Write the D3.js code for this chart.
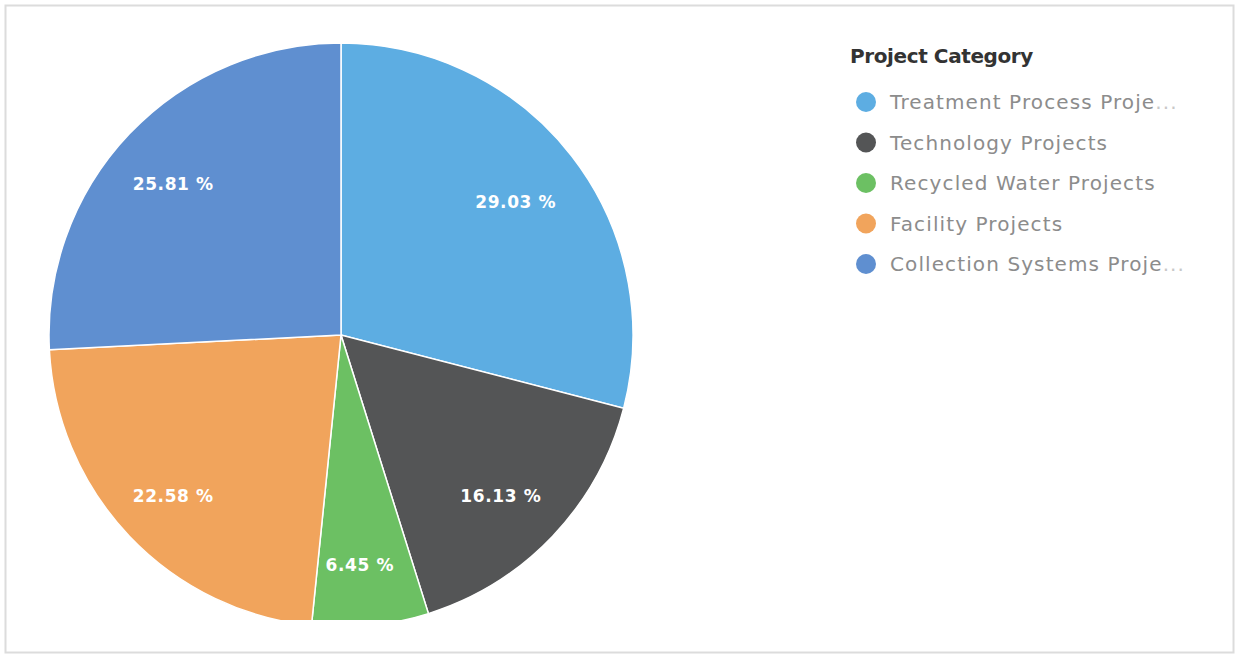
<!DOCTYPE html>
<html>
<head>
<meta charset="utf-8">
<script src="https://cdn.jsdelivr.net/npm/d3@7"></script>
<style>
  html, body { margin: 0; padding: 0; background: #fff; }
  svg { display: block; }
</style>
</head>
<body>
<svg id="chart" width="1240" height="658"></svg>
<script>
const categories = ["Treatment Process Proje", "Technology Projects", "Recycled Water Projects", "Facility Projects", "Collection Systems Proje"];
const truncated = [true, false, false, false, true];
const counts = [9, 5, 2, 7, 8];
const labels = ["29.03 %", "16.13 %", "6.45 %", "22.58 %", "25.81 %"];
const colors = ["#5dade2", "#545556", "#6cc063", "#f1a45c", "#5f8fd0"];
const legendTitle = "Project Category";

const svg = d3.select("#chart");

// outer frame
svg.append("rect").attr("x", 5.5).attr("y", 5.5).attr("width", 1228).attr("height", 647)
  .attr("fill", "#fff").attr("stroke", "#dcdcdc").attr("stroke-width", 2);

const cx = 341, cy = 335, r = 292;

svg.append("defs").append("clipPath").attr("id", "clip")
  .append("rect").attr("x", 0).attr("y", 0).attr("width", 1240).attr("height", 620);

const pie = d3.pie().sort(null).value(d => d)(counts);
const arc = d3.arc().innerRadius(0).outerRadius(r);
const labelArc = d3.arc().innerRadius(226).outerRadius(226);

const root = svg.append("g").attr("clip-path", "url(#clip)");
const g = root.append("g").attr("transform", `translate(${cx},${cy})`);

g.selectAll("path").data(pie).join("path")
  .attr("d", arc)
  .attr("fill", (d, i) => colors[i])
  .attr("stroke", "#fff")
  .attr("stroke-width", 1.5);

// label ring is centred slightly lower-left of the pie centre
const gl = root.append("g").attr("transform", `translate(${cx - 4},${cy + 5})`);
gl.selectAll("text").data(pie).join("text")
  .attr("transform", d => `translate(${labelArc.centroid(d)})`)
  .attr("text-anchor", "middle")
  .attr("dy", "0.35em")
  .attr("fill", "#fff")
  .attr("font-family", "'DejaVu Sans', sans-serif")
  .attr("font-weight", "bold")
  .attr("font-size", 17)
  .attr("letter-spacing", 0.6)
  .text((d, i) => labels[i]);

// legend
const lg = svg.append("g").attr("transform", "translate(850,0)");
lg.append("text").attr("x", 0).attr("y", 63)
  .attr("font-family", "'DejaVu Sans', sans-serif").attr("font-weight", "bold")
  .attr("font-size", 20).attr("fill", "#333").attr("letter-spacing", -0.4)
  .text(legendTitle);

const yLeg = d3.scalePoint().domain(categories).range([102, 264]);
const items = lg.selectAll("g.item").data(categories).join("g").attr("class", "item")
  .attr("transform", d => `translate(0,${yLeg(d)})`);
items.append("circle").attr("cx", 16).attr("cy", 0).attr("r", 10)
  .attr("fill", (d, i) => colors[i]);
const t = items.append("text").attr("x", 40).attr("y", 0).attr("dy", "0.35em")
  .attr("font-family", "'DejaVu Sans', sans-serif").attr("font-size", 20)
  .attr("fill", "#8c8c8c").attr("letter-spacing", 1.1);
t.append("tspan").text(d => d);
t.append("tspan").attr("fill", "#c8c8c8").text((d, i) => truncated[i] ? "..." : "");
</script>
</body>
</html>
